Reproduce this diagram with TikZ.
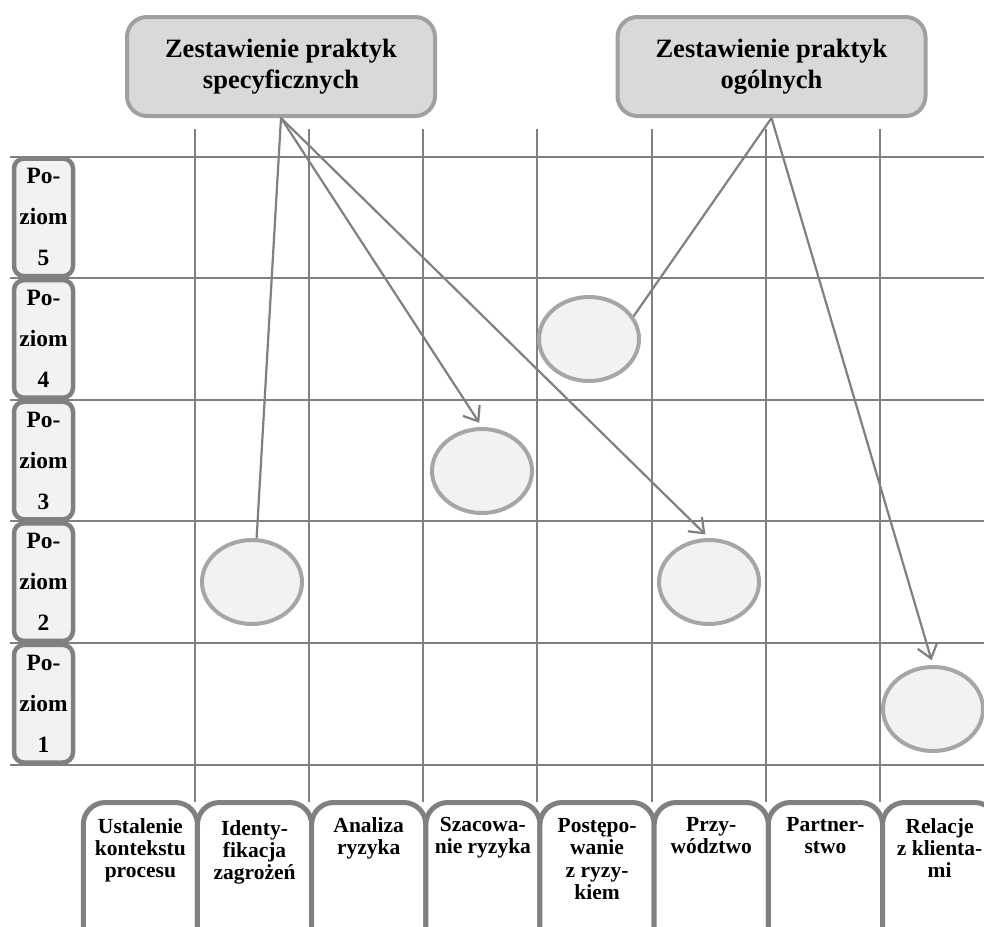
\documentclass[tikz,border=0pt]{standalone}
\usepackage{fontspec}
\setmainfont{Liberation Serif}
\usetikzlibrary{arrows.meta,shapes.geometric,calc}
\definecolor{gridc}{HTML}{808080}
\definecolor{ellfill}{HTML}{F2F2F2}
\definecolor{elldraw}{HTML}{A6A6A6}
\definecolor{topfill}{HTML}{D9D9D9}
\definecolor{topdraw}{HTML}{A0A0A0}
\begin{document}
\begin{tikzpicture}[x=1pt,y=-1pt,
  gridline/.style={gridc, line width=2pt},
  topbox/.style={draw=topdraw, fill=topfill, line width=4pt, rounded corners=20pt,
    minimum width=308pt, minimum height=99pt, align=center, inner sep=0pt,
    font=\fontsize{26.5pt}{31.5pt}\selectfont\bfseries},
  levelbox/.style={draw=gridc, fill=ellfill, line width=4.5pt, rounded corners=10pt,
    minimum width=59pt, minimum height=117.6pt, align=center, inner sep=0pt,
    font=\fontsize{23.4pt}{41pt}\selectfont\bfseries},
  procbox/.style={draw=gridc, fill=white, line width=5pt, rounded corners=22pt,
    minimum width=114.17pt, minimum height=150pt, anchor=north west, inner sep=0pt},
  proctext/.style={anchor=north, align=center, inner sep=0pt,
    font=\fontsize{21.5pt}{22.4pt}\selectfont\bfseries},
  practice/.style={ellipse, draw=elldraw, fill=ellfill, line width=4pt,
    minimum width=100pt, minimum height=84pt, inner sep=0pt},
  conn/.style={gridc, line width=2.2pt},
  arr/.style={conn, -{Straight Barb[length=13pt,width=20pt]}, shorten >=5pt}
]
\useasboundingbox (0,0) rectangle (984,926);
\clip (0,0) rectangle (984,926);
% grid
\foreach \k in {1,...,7}
  \draw[gridline] ({80.8+\k*114.17},129) -- ({80.8+\k*114.17},802);
\foreach \j in {0,...,5}
  \draw[gridline] (10,{156.5+\j*121.6}) -- (984,{156.5+\j*121.6});
% level boxes
\node[levelbox] (p5) at (43.5,217.3) {Po-\\ziom\\5};
\node[levelbox] (p4) at (43.5,338.9) {Po-\\ziom\\4};
\node[levelbox] (p3) at (43.5,460.5) {Po-\\ziom\\3};
\node[levelbox] (p2) at (43.5,582.1) {Po-\\ziom\\2};
\node[levelbox] (p1) at (43.5,703.7) {Po-\\ziom\\1};
% top boxes
\node[topbox] (spec) at (281,66.5) {Zestawienie praktyk\\specyficznych};
\node[topbox] (gen) at (771.5,66.5) {Zestawienie praktyk\\ogólnych};
% process boxes
\node[procbox] (b1) at (80.8,800) {};
\node[procbox] (b2) at (194.97,800) {};
\node[procbox] (b3) at (309.14,800) {};
\node[procbox] (b4) at (423.31,800) {};
\node[procbox] (b5) at (537.48,800) {};
\node[procbox] (b6) at (651.65,800) {};
\node[procbox] (b7) at (765.82,800) {};
\node[procbox] (b8) at (879.99,800) {};
\node[proctext] (t1) at ([yshift=-18pt]b1.north) {Ustalenie\\kontekstu\\procesu};
\node[proctext] (t2) at ([yshift=-20pt]b2.north) {Identy-\\fikacja\\zagrożeń};
\node[proctext] (t3) at ([yshift=-17pt]b3.north) {Analiza\\ryzyka};
\node[proctext] (t4) at ([yshift=-17pt]b4.north) {Szacowa-\\nie ryzyka};
\node[proctext] (t5) at ([yshift=-18pt]b5.north) {Postępo-\\wanie\\z ryzy-\\kiem};
\node[proctext] (t6) at ([yshift=-17pt]b6.north) {Przy-\\wództwo};
\node[proctext] (t7) at ([yshift=-17pt]b7.north) {Partner-\\stwo};
\node[proctext] (t8) at ([yshift=-18pt]b8.north) {Relacje\\z klienta-\\mi};
% practice ellipses
\node[practice] (e1) at (252,582) {};
\node[practice] (e2) at (482,471) {};
\node[practice] (e3) at (589,339) {};
\node[practice] (e4) at (709,582) {};
\node[practice] (e5) at (933,709) {};
% connectors
\draw[conn] (spec.south) -- (e1.84);
\draw[arr] (spec.south) -- (e2.north);
\draw[arr] (spec.south) -- (e4.north);
\draw[conn] (gen.south) -- (e3.27);
\draw[arr] (gen.south) -- (e5.north);
\end{tikzpicture}
\end{document}
